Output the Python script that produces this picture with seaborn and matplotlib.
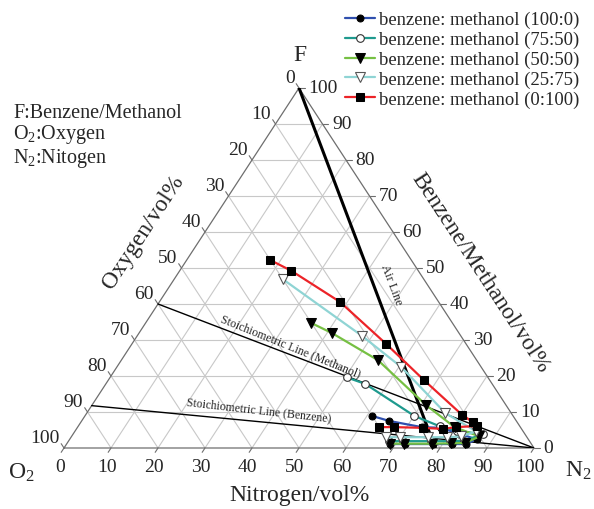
import matplotlib
matplotlib.use("Agg")
import matplotlib.pyplot as plt
import numpy as np
import seaborn as sns

# ─── Data: (oxygen vol%, fuel vol%) along each explosion-limit curve ─────────
# upper limit branch -> nose -> lower limit branch
OXY_100_0  = [30, 27, 21, 17, 14, 11, 14, 17, 21, 27, 30]
FUEL_100_0 = [8.9, 7.5, 5.8, 5.6, 4.0, 2.4, 1.1, 1.1, 1.1, 1.1, 1.1]

OXY_75_50  = [30, 27, 21, 17, 14, 9, 14, 17, 21, 27, 30]
FUEL_75_50 = [19.6, 17.8, 8.9, 6.0, 4.8, 3.8, 2.0, 1.9, 1.9, 1.9, 1.9]

OXY_50_50  = [30, 27, 21, 17, 14, 10, 14, 17, 21, 27, 30]
FUEL_50_50 = [34.7, 31.9, 24.4, 11.9, 5.8, 3.2, 1.4, 1.3, 1.2, 1.2, 1.2]

OXY_25_75  = [30, 21, 17, 14, 10, 14, 17, 21, 27, 30]
FUEL_25_75 = [46.9, 31.1, 22.5, 9.7, 4.6, 3.2, 3.0, 3.0, 3.0, 3.0]

OXY_0_100  = [30, 27, 21, 17, 14, 10.7, 9.4, 9.1, 13.7, 16.7, 20.8, 26.9, 30]
FUEL_0_100 = [52.2, 49.2, 40.6, 28.9, 18.9, 9.2, 7.2, 6.1, 5.8, 5.3, 5.6, 5.8, 5.8]

SERIES_LABELS = [
    "benzene: methanol (100:0)",
    "benzene: methanol (75:50)",
    "benzene: methanol (50:50)",
    "benzene: methanol (25:75)",
    "benzene: methanol (0:100)",
]
TICKS = list(range(0, 101, 10))

AIR_O2 = 21                       # air: 21 % O2 / 79 % N2
STOICH_METHANOL_O2 = 60           # CH3OH + 1.5 O2
STOICH_BENZENE_O2 = 100 * 7.5 / 8.5   # C6H6 + 7.5 O2

# ─── Style ────────────────────────────────────────────────────────────────────
sns.set_style("white")
SERIF = ["Liberation Serif", "DejaVu Serif"]
plt.rcParams["font.family"] = SERIF
plt.rcParams["mathtext.fontset"] = "custom"
plt.rcParams["mathtext.rm"] = "Liberation Serif"
plt.rcParams["mathtext.it"] = "Liberation Serif:italic"

COLORS  = ["#2f4fae", "#1f9a8e", "#76c043", "#8fd4d4", "#ec2328"]
MARKERS = [
    dict(marker="o", markersize=5, markerfacecolor="black", markeredgecolor="black"),
    dict(marker="o", markersize=5.5, markerfacecolor="white", markeredgecolor="#333333", markeredgewidth=0.8),
    dict(marker="v", markersize=6.5, markerfacecolor="black", markeredgecolor="black"),
    dict(marker="v", markersize=6.5, markerfacecolor="white", markeredgecolor="#555555", markeredgewidth=0.8),
    dict(marker="s", markersize=6, markerfacecolor="black", markeredgecolor="black"),
]
GRID = "#c8c8c8"
EDGE = "#6e6e6e"


def to_xy(oxy, fuel):
    """Ternary (O2, F) -> cartesian; N2 along bottom, F up."""
    o = np.asarray(oxy, float)
    f = np.asarray(fuel, float)
    n = 100 - o - f
    return n + f / 2, f


fig = plt.figure(figsize=(5.94, 5.10), dpi=100)
ax = fig.add_axes([64 / 594, 1 - 449 / 510, 470 / 594, 360 / 510])
ax.set_xlim(0, 100)
ax.set_ylim(0, 100)
ax.axis("off")

# ── grid ──────────────────────────────────────────────────────────────────────
for k in range(10, 100, 10):
    ax.plot([k / 2, 100 - k / 2], [k, k], color=GRID, lw=0.8, zorder=1)
    ax.plot([k, k + (100 - k) / 2], [0, 100 - k], color=GRID, lw=0.8, zorder=1)
    ax.plot([100 - k, (100 - k) / 2], [0, 100 - k], color=GRID, lw=0.8, zorder=1)

ax.plot([0, 100, 50, 0], [0, 0, 100, 0], color=EDGE, lw=0.9, zorder=2, clip_on=False)

# ── ticks + tick labels ───────────────────────────────────────────────────────
for k in TICKS:
    # bottom (nitrogen)
    ax.plot([k, k - 0.6], [0, -1.2], color=EDGE, lw=0.8, clip_on=False)
    ax.text(k - 0.9, -5.2, f"{k}", ha="center", va="center", fontsize=14)
    # right (fuel)
    xr, yr = 100 - k / 2, k
    ax.plot([xr, xr + 1.2], [yr, yr], color=EDGE, lw=0.8, clip_on=False)
    ax.text(xr + 2.0, yr, f"{k}", ha="left", va="center", fontsize=14)
    # left (oxygen)
    xl, yl = (100 - k) / 2, 100 - k
    ax.plot([xl, xl - 0.6], [yl, yl + 1.2], color=EDGE, lw=0.8, clip_on=False)
    ax.text(xl - 0.9, yl + 2.9, f"{k}", ha="right", va="center", fontsize=14)

# ── reference lines ───────────────────────────────────────────────────────────
xa, _ = to_xy([AIR_O2], [0])
ax.plot([50, xa[0]], [100, 0], color="black", lw=2.2, zorder=4)
for o2 in (STOICH_METHANOL_O2, STOICH_BENZENE_O2):
    xs, ys = to_xy([o2], [100 - o2])
    ax.plot([xs[0], 100], [ys[0], 0], color="black", lw=1.0, zorder=4)

ax.text(48.3, 28.3, "Stoichiometric Line (Methanol)", rotation=-22,
        rotation_mode="anchor", ha="center", va="center", fontsize=8.5)
ax.text(41.5, 10.8, "Stoichiometric Line (Benzene)", rotation=-6.5,
        rotation_mode="anchor", ha="center", va="center", fontsize=8.5)
ax.text(69.6, 45.6, "Air Line", rotation=-69.4,
        rotation_mode="anchor", ha="center", va="center", fontsize=9)

# ── data series ───────────────────────────────────────────────────────────────
series = [
    (OXY_100_0, FUEL_100_0),
    (OXY_75_50, FUEL_75_50),
    (OXY_50_50, FUEL_50_50),
    (OXY_25_75, FUEL_25_75),
    (OXY_0_100, FUEL_0_100),
]
for (oxy, fuel), label, color, mk in zip(series, SERIES_LABELS, COLORS, MARKERS):
    xs, ys = to_xy(oxy, fuel)
    sns.lineplot(x=xs, y=ys, sort=False, estimator=None, ax=ax, color=color,
                 lw=1.6, label=label, zorder=5, clip_on=False, **mk)

handles, labels = ax.get_legend_handles_labels()
if ax.get_legend() is not None:
    ax.get_legend().remove()
fig.legend(handles, labels, loc="upper left", bbox_to_anchor=(345 / 594, 1 - 12 / 510),
           frameon=False, fontsize=13.4, handlelength=1.6, handletextpad=0.25,
           labelspacing=0.14, borderpad=0, borderaxespad=0)

# ── titles / corner labels ────────────────────────────────────────────────────
ax.text(16.8, 60.3, "Oxygen/vol%", rotation=56.7, rotation_mode="anchor",
        ha="center", va="center", fontsize=17)
ax.text(88.5, 48.9, "Benzene/Methanol/vol%", rotation=-56.7, rotation_mode="anchor",
        ha="center", va="center", fontsize=17)
ax.text(50.2, -12.8, "Nitrogen/vol%", ha="center", va="center", fontsize=17)
ax.text(50.2, 109.4, "F", ha="center", va="center", fontsize=17)
ax.text(-9.0, -6.6, "O$_2$", ha="center", va="center", fontsize=17)
ax.text(109.4, -6.0, "N$_2$", ha="center", va="center", fontsize=17)

fig.text(13 / 594, 1 - 113 / 510, "F:Benzene/Methanol", ha="left", va="center", fontsize=14.5)
fig.text(13 / 594, 1 - 135 / 510, "O$_2$:Oxygen", ha="left", va="center", fontsize=14.5)
fig.text(13 / 594, 1 - 158 / 510, "N$_2$:Nitogen", ha="left", va="center", fontsize=14.5)

fig.savefig("out.png", dpi=100, facecolor="white")
